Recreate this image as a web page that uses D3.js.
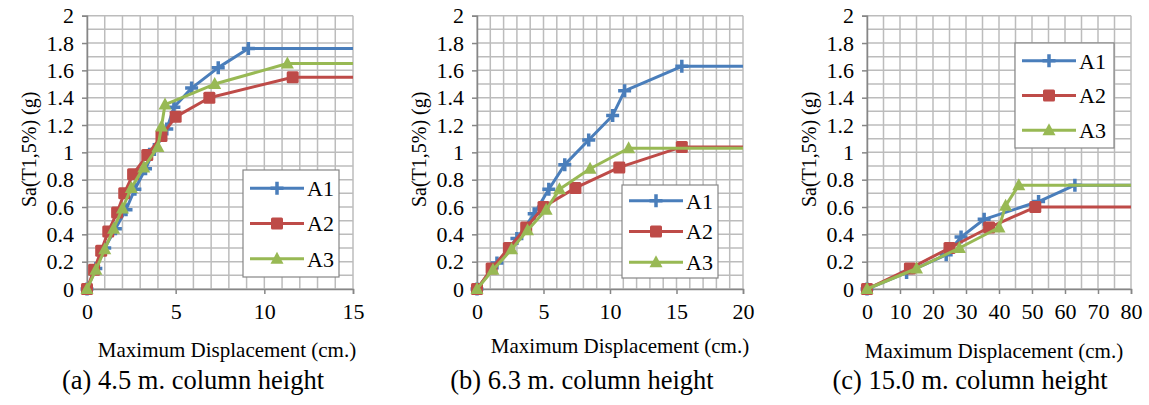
<!DOCTYPE html>
<html>
<head>
<meta charset="utf-8">
<script src="https://cdn.jsdelivr.net/npm/d3@7"></script>
<style>
  body { margin: 0; background: #fff; }
  svg { display: block; }
  text { font-family: "Liberation Serif", "Times New Roman", serif; fill: #000; }
</style>
</head>
<body>
<div id="app"></div>
<script>
const WIDTH = 1149;
const HEIGHT = 405;

const seriesNames = ['A1', 'A2', 'A3'];
const colors = ['#4a7ebb', '#be4b48', '#98b954'];

const yTicks = [0, 0.2, 0.4, 0.6, 0.8, 1, 1.2, 1.4, 1.6, 1.8, 2];
const yTickLabels = ['0', '0.2', '0.4', '0.6', '0.8', '1', '1.2', '1.4', '1.6', '1.8', '2'];

// (a) 4.5 m column height
const xTicksA = [0, 5, 10, 15];
const dispA1a = [0, 0.5, 1, 1.6, 2.2, 2.7, 3.3, 3.8, 4.5, 4.9, 5.9, 7.4, 9.1, 15];
const saA1a = [0, 0.15, 0.30, 0.44, 0.58, 0.73, 0.88, 1.02, 1.17, 1.33, 1.47, 1.62, 1.76, 1.76];
const dispA2a = [0, 0.4, 0.8, 1.2, 1.7, 2.1, 2.6, 3.4, 4.2, 5.0, 6.9, 11.6, 15];
const saA2a = [0, 0.14, 0.28, 0.42, 0.56, 0.70, 0.84, 0.98, 1.12, 1.26, 1.40, 1.55, 1.55];
const dispA3a = [0, 0.5, 1, 1.5, 2, 2.5, 3.2, 4.0, 4.2, 4.4, 7.2, 11.3, 15];
const saA3a = [0, 0.14, 0.29, 0.44, 0.59, 0.74, 0.89, 1.04, 1.19, 1.35, 1.50, 1.65, 1.65];

// (b) 6.3 m column height
const xTicksB = [0, 5, 10, 15, 20];
const dispA1b = [0, 1.5, 3, 4.3, 5.4, 6.6, 8.4, 10.2, 11.1, 15.4, 20];
const saA1b = [0, 0.19, 0.37, 0.55, 0.73, 0.91, 1.09, 1.27, 1.45, 1.63, 1.63];
const dispA2b = [0, 1.1, 2.4, 3.7, 5.0, 7.4, 10.7, 15.4, 20];
const saA2b = [0, 0.15, 0.30, 0.45, 0.60, 0.74, 0.89, 1.04, 1.04];
const dispA3b = [0, 1.2, 2.6, 3.8, 5.2, 6.2, 8.5, 11.4, 20];
const saA3b = [0, 0.14, 0.29, 0.43, 0.58, 0.73, 0.88, 1.03, 1.03];

// (c) 15.0 m column height
const xTicksC = [0, 10, 20, 30, 40, 50, 60, 70, 80];
const dispA1c = [0, 12, 24, 28.5, 35.5, 52, 63, 80];
const saA1c = [0, 0.12, 0.25, 0.38, 0.51, 0.64, 0.76, 0.76];
const dispA2c = [0, 13, 25, 37, 51, 80];
const saA2c = [0, 0.15, 0.30, 0.45, 0.60, 0.60];
const dispA3c = [0, 15, 28, 40, 42, 46, 80];
const saA3c = [0, 0.15, 0.30, 0.45, 0.61, 0.76, 0.76];

const xTitle = 'Maximum Displacement (cm.)';
const yTitle = 'Sa(T1,5%) (g)';
const captions = ['(a) 4.5 m. column height', '(b) 6.3 m. column height', '(c) 15.0 m. column height'];

const panels = [
  { left: 87, right: 353, max: 15, ticks: xTicksA, grid: 1,
    series: [[dispA1a, saA1a], [dispA2a, saA2a], [dispA3a, saA3a]],
    legend: { x: 243, y: 170, w: 96, h: 107 }, yTitleX: 29, xTitleX: 227, xTitleY: 357, capX: 193 },
  { left: 477, right: 743, max: 20, ticks: xTicksB, grid: 1,
    series: [[dispA1b, saA1b], [dispA2b, saA2b], [dispA3b, saA3b]],
    legend: { x: 622, y: 185, w: 96, h: 93 }, yTitleX: 419, xTitleX: 620, xTitleY: 353, capX: 582 },
  { left: 867, right: 1131, max: 80, ticks: xTicksC, grid: 5,
    series: [[dispA1c, saA1c], [dispA2c, saA2c], [dispA3c, saA3c]],
    legend: { x: 1015, y: 43, w: 99, h: 105 }, yTitleX: 809, xTitleX: 994, xTitleY: 358, capX: 970 }
];

const plotTop = 15.7, plotBottom = 289;

const svg = d3.select('#app')
  .append('svg')
  .attr('width', WIDTH)
  .attr('height', HEIGHT);

const y = d3.scaleLinear().domain([0, 2]).range([plotBottom, plotTop]);

function marker(g, i, color) {
  if (i === 0) {
    g.append('path').attr('d', 'M-6.5,0H6.5M0,-6.5V6.5')
      .attr('stroke', color).attr('stroke-width', 3.5).attr('fill', 'none');
  } else if (i === 1) {
    g.append('rect').attr('x', -6).attr('y', -6).attr('width', 12).attr('height', 12)
      .attr('rx', 1.5).attr('fill', color);
  } else {
    g.append('path').attr('d', 'M0,-7L6.5,5L-6.5,5Z').attr('fill', color);
  }
}

panels.forEach((p, pi) => {
  const x = d3.scaleLinear().domain([0, p.max]).range([p.left, p.right]);
  const g = svg.append('g');

  // gridlines
  g.append('g').selectAll('line')
    .data(d3.range(0, p.max + 0.001, p.grid))
    .enter().append('line')
    .attr('x1', d => x(d)).attr('x2', d => x(d))
    .attr('y1', plotTop).attr('y2', plotBottom)
    .attr('stroke', '#bcbcbc').attr('stroke-width', 1.5);
  g.append('g').selectAll('line')
    .data(d3.range(0, 2.001, 0.1))
    .enter().append('line')
    .attr('x1', p.left).attr('x2', p.right)
    .attr('y1', d => y(d)).attr('y2', d => y(d))
    .attr('stroke', '#bcbcbc').attr('stroke-width', 1.5);

  // axes
  const xAxis = d3.axisBottom(x).tickValues(p.ticks).tickSize(5).tickPadding(6).tickFormat(d3.format('d'));
  const yAxis = d3.axisLeft(y).tickValues(yTicks).tickSize(5).tickPadding(8)
    .tickFormat((d, i) => yTickLabels[i]);

  const gx = g.append('g').attr('transform', `translate(0,${plotBottom})`).call(xAxis);
  const gy = g.append('g').attr('transform', `translate(${p.left},0)`).call(yAxis);
  [gx, gy].forEach(a => {
    a.select('.domain').attr('stroke', '#868686').attr('stroke-width', 1.5);
    a.selectAll('.tick line').attr('stroke', '#868686').attr('stroke-width', 1.5);
    a.selectAll('text').attr('font-size', 22).attr('font-family', '"Liberation Serif", serif').attr('fill', '#000');
  });
  gx.selectAll('text').attr('dy', '0.85em');

  // series
  const line = d3.line().x(d => x(d[0])).y(d => y(d[1]));
  p.series.forEach((s, i) => {
    const pts = s[0].map((v, k) => [v, s[1][k]]);
    g.append('path').datum(pts)
      .attr('d', line).attr('fill', 'none')
      .attr('stroke', colors[i]).attr('stroke-width', 3).attr('stroke-linejoin', 'round');
    // markers on all but the flat extension end point
    pts.slice(0, -1).forEach(pt => {
      const m = g.append('g').attr('transform', `translate(${x(pt[0])},${y(pt[1])})`);
      marker(m, i, colors[i]);
    });
  });

  // legend
  const L = p.legend;
  const lg = g.append('g').attr('transform', `translate(${L.x},${L.y})`);
  lg.append('rect').attr('width', L.w).attr('height', L.h)
    .attr('fill', '#fff').attr('stroke', '#868686').attr('stroke-width', 1.2);
  seriesNames.forEach((name, i) => {
    const ly = L.h * (0.17 + i * 0.33);
    lg.append('line').attr('x1', 7).attr('x2', 61).attr('y1', ly).attr('y2', ly)
      .attr('stroke', colors[i]).attr('stroke-width', 3);
    marker(lg.append('g').attr('transform', `translate(34,${ly})`), i, colors[i]);
    lg.append('text').attr('x', 64).attr('y', ly).attr('dy', '0.35em')
      .attr('font-size', 22).text(name);
  });

  // titles
  g.append('text')
    .attr('transform', `translate(${p.yTitleX},${(plotTop + plotBottom) / 2 - 3}) rotate(-90)`)
    .attr('text-anchor', 'middle').attr('dy', '0.35em')
    .attr('font-size', 20).text(yTitle);
  g.append('text').attr('x', p.xTitleX).attr('y', p.xTitleY)
    .attr('text-anchor', 'middle').attr('font-size', 21).text(xTitle);
  g.append('text').attr('x', p.capX).attr('y', 389)
    .attr('text-anchor', 'middle').attr('font-size', 26.5).text(captions[pi]);
});
</script>
</body>
</html>
